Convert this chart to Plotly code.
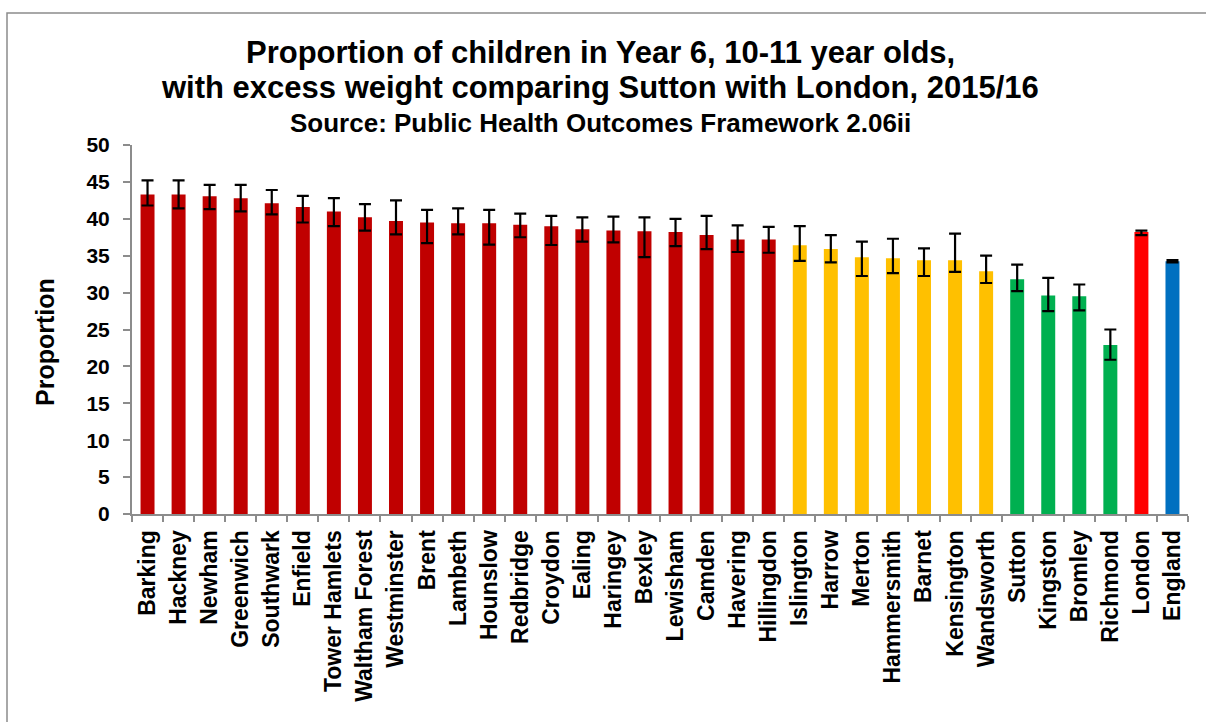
import plotly.graph_objects as go

areas = ["Barking", "Hackney", "Newham", "Greenwich", "Southwark", "Enfield",
         "Tower Hamlets", "Waltham Forest", "Westminster", "Brent", "Lambeth",
         "Hounslow", "Redbridge", "Croydon", "Ealing", "Haringey", "Bexley",
         "Lewisham", "Camden", "Havering", "Hillingdon", "Islington", "Harrow",
         "Merton", "Hammersmith", "Barnet", "Kensington", "Wandsworth", "Sutton",
         "Kingston", "Bromley", "Richmond", "London", "England"]

values = [43.3, 43.3, 43.05, 42.8, 42.1, 41.6, 41.0, 40.2, 39.7, 39.5, 39.4,
          39.4, 39.2, 39.0, 38.6, 38.4, 38.3, 38.2, 37.8, 37.2, 37.2, 36.4, 35.9,
          34.8, 34.65, 34.4, 34.4, 32.9, 31.8, 29.6, 29.5, 22.9, 38.2, 34.25]

upper_ci = [45.2, 45.2, 44.6, 44.6, 43.9, 43.1, 42.8, 42.0, 42.5, 41.2, 41.4,
            41.2, 40.7, 40.4, 40.2, 40.3, 40.2, 40.0, 40.4, 39.1, 38.9, 39.0, 37.8,
            36.9, 37.3, 36.0, 38.0, 35.0, 33.8, 32.0, 31.1, 25.0, 38.4, 34.4]

lower_ci = [41.8, 41.4, 41.3, 41.0, 40.6, 39.5, 39.0, 38.4, 37.9, 36.7, 37.9,
            36.5, 37.5, 36.45, 36.9, 36.8, 34.8, 36.3, 35.9, 35.5, 35.4, 34.3, 34.1,
            32.25, 32.65, 32.25, 32.8, 31.3, 30.2, 27.5, 27.6, 20.9, 37.8, 34.1]

comparison = (["worse"] * 21 + ["similar"] * 7 + ["better"] * 4
              + ["london", "england"])

y_ticks = [0, 5, 10, 15, 20, 25, 30, 35, 40, 45, 50]

colour_map = {"worse": "#C00000", "similar": "#FFC000", "better": "#00B050",
              "london": "#FF0000", "england": "#0070C0"}

FONT = "Liberation Sans, Arial, sans-serif"

err_plus = [u - v for u, v in zip(upper_ci, values)]
err_minus = [v - l for v, l in zip(values, lower_ci)]

fig = go.Figure()
fig.add_trace(go.Bar(
    x=areas, y=values,
    marker=dict(color=[colour_map[c] for c in comparison], line=dict(width=0)),
    error_y=dict(type="data", symmetric=False, array=err_plus,
                 arrayminus=err_minus, color="black", thickness=2.2, width=6),
    hoverinfo="x+y",
))

L, R, T, B = 132, 18, 145, 208
W, H = 1206, 722
pw = W - L - R
ph = H - T - B

def px_x(p):
    return (p - L) / pw

def px_y(p):
    return (H - B - p) / ph

cx = px_x(600)
fig.add_annotation(text="Proportion of children in Year 6, 10-11 year olds,",
                   xref="paper", yref="paper", x=cx, y=px_y(52), xanchor="center",
                   yanchor="middle", showarrow=False,
                   font=dict(family=FONT, size=31, color="black", weight="bold"))
fig.add_annotation(text="with excess weight comparing Sutton with London, 2015/16",
                   xref="paper", yref="paper", x=cx, y=px_y(88), xanchor="center",
                   yanchor="middle", showarrow=False,
                   font=dict(family=FONT, size=31, color="black", weight="bold"))
fig.add_annotation(text="Source: Public Health Outcomes Framework 2.06ii",
                   xref="paper", yref="paper", x=cx, y=px_y(123), xanchor="center",
                   yanchor="middle", showarrow=False,
                   font=dict(family=FONT, size=26, color="black", weight="bold"))

# y-axis title
fig.add_annotation(text="Proportion", textangle=-90,
                   xref="paper", yref="paper", x=px_x(45), y=px_y(342),
                   xanchor="center", yanchor="middle", showarrow=False,
                   font=dict(family=FONT, size=25, color="black", weight="bold"))

# outer chart frame
fig.add_shape(type="rect", xref="paper", yref="paper",
              x0=px_x(7), x1=px_x(1300), y0=px_y(800), y1=px_y(13),
              line=dict(color="#8C8C8C", width=1.5), fillcolor="rgba(0,0,0,0)",
              layer="below")

fig.update_layout(
    width=W, height=H,
    margin=dict(l=L, r=R, t=T, b=B, pad=0),
    paper_bgcolor="white", plot_bgcolor="white",
    bargap=0.55,
    showlegend=False,
    font=dict(family=FONT, color="black"),
    xaxis=dict(
        type="category", tickangle=-90, tickson="boundaries",
        ticks="outside", ticklen=6, tickwidth=1.5, tickcolor="#8C8C8C",
        showline=True, linecolor="#8C8C8C", linewidth=2,
        tickfont=dict(family=FONT, size=23, color="black", weight="bold"),
        ticklabelstandoff=5,
        showgrid=False, zeroline=False,
    ),
    yaxis=dict(
        range=[0, 50], tickvals=y_ticks, ticktext=[str(v) for v in y_ticks],
        ticks="outside", ticklen=7, tickwidth=1.5, tickcolor="#8C8C8C",
        showline=True, linecolor="#8C8C8C", linewidth=2,
        tickfont=dict(family=FONT, size=21, color="black", weight="bold"),
        ticklabelstandoff=9,
        showgrid=False, zeroline=False,
    ),
)

fig.write_html(
    "out.html",
    config={"displayModeBar": False},
    post_script=["document.body.style.margin='0px';"
                 "document.body.style.overflow='hidden';"],
)
